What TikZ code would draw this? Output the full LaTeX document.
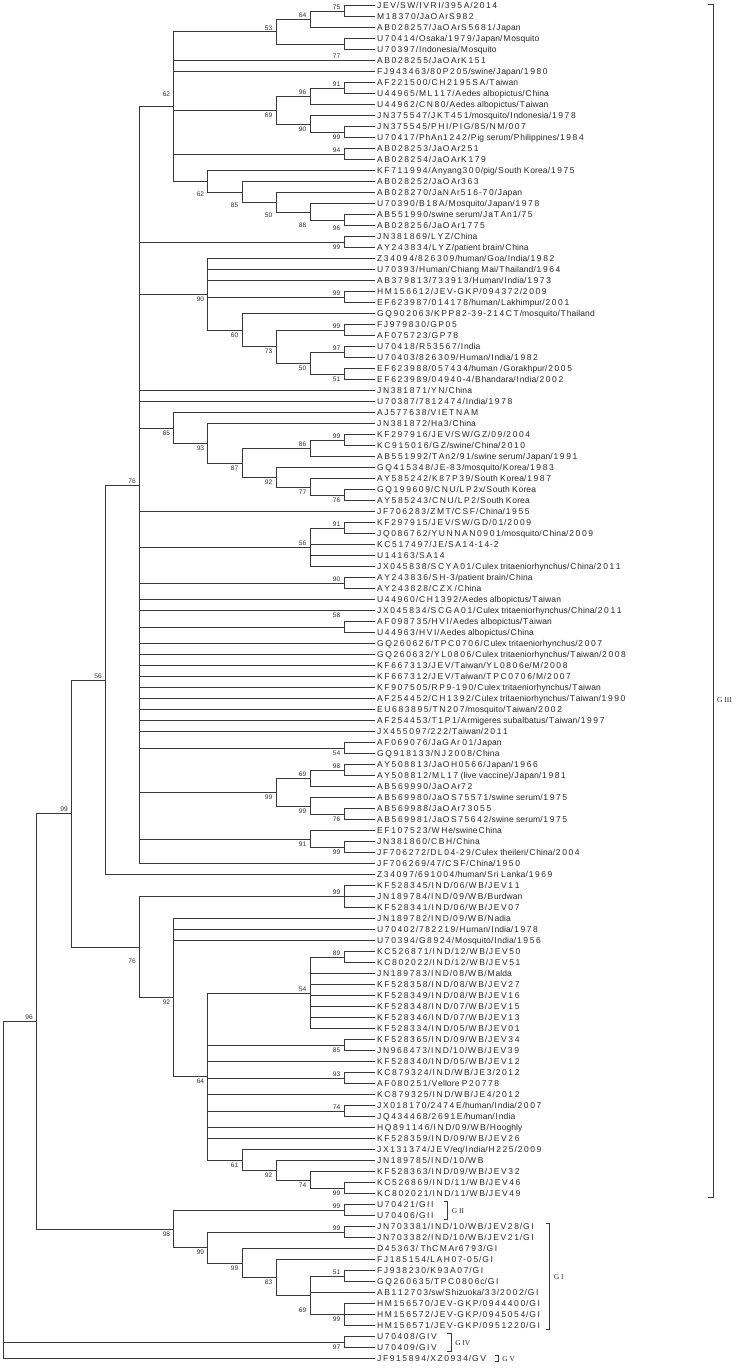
\documentclass[tikz,border=0pt]{standalone}
\usepackage{fontspec}
\setmainfont{Liberation Sans}
\newfontfamily\leaffont{Liberation Sans}
\newfontfamily\cladefont{Liberation Serif}
\usetikzlibrary{calc}
% wider capitals and digits (class 7) in leaf labels, spacing shared on both sides
\newcount\cc
\cc=`A \loop \XeTeXcharclass\cc=7 \ifnum\cc<`Z \advance\cc by 1 \repeat
\cc=`0 \loop \XeTeXcharclass\cc=7 \ifnum\cc<`9 \advance\cc by 1 \repeat
\XeTeXinterchartoks 7 7 = {\kern1.6pt}
\XeTeXinterchartoks 7 0 = {\kern0.85pt}
\XeTeXinterchartoks 0 7 = {\kern0.85pt}
\XeTeXinterchartoks 0 0 = {\kern0.1pt}
\newcommand\wideon{\XeTeXinterchartokenstate=1 }
\tikzset{
  br/.style={draw=black!78, line width=0.8pt},
  clbr/.style={draw=black!78, line width=0.8pt},
  leaf/.style={anchor=west, inner xsep=2pt, inner ysep=0pt, text height=6.1pt, text depth=0pt,
    font=\wideon\leaffont\fontsize{8.5}{10}\selectfont, text=black!85},
  bs/.style={anchor=east, inner sep=0pt, font=\fontsize{6.6}{7}\selectfont, text=black!80},
  clade/.style={anchor=west, inner sep=0pt, font=\cladefont\fontsize{7.4}{8}\selectfont, text=black!85}
}
\newcommand\lf[2]{\node[leaf] (l#1) at (375,{5.7+11*(#1-1)}) {#2};}
\newcommand\nd[3]{\coordinate (#1) at (#2,#3);}
\newcommand\ed[2]{\draw[br] (#1) |- (#2);}
\newcommand\el[2]{\draw[br] (#1) |- (l#2.west);}
\newcommand\bv[3]{\node[bs] (b#1) at ([xshift=-3.5pt,yshift=#3pt]#1) {#2};}
% clade bracket: #1 top leaf, #2 bottom leaf, #3 leaf giving x, #4 gap, #5 text, #6 name
\newcommand\clb[6]{%
  \path let \p1=(#3.east), \p2=(#1.east), \p3=(#2.east) in
    coordinate (#6t) at (\x1+#4pt,\y2+3pt) coordinate (#6b) at (\x1+#4pt,\y3-4pt);
  \draw[clbr] ([xshift=-4pt]#6t) -- (#6t) -- (#6b) -- ([xshift=-4pt]#6b);
  \node[clade] (#6) at ($(#6t)!0.5!(#6b)+(4,0)$) {#5};}
\begin{document}
\begin{tikzpicture}[x=1pt,y=-1pt]
\useasboundingbox (0,0) rectangle (742,1368);
% ---------- leaves ----------
\lf{1}{JEV/SW/IVRI/395A/2014}
\lf{2}{M18370/JaOArS982}
\lf{3}{AB028257/JaOArS5681/Japan}
\lf{4}{U70414/Osaka/1979/Japan/Mosquito}
\lf{5}{U70397/Indonesia/Mosquito}
\lf{6}{AB028255/JaOArK151}
\lf{7}{FJ943463/80P205/swine/Japan/1980}
\lf{8}{AF221500/CH2195SA/Taiwan}
\lf{9}{U44965/ML117/Aedes albopictus/China}
\lf{10}{U44962/CN80/Aedes albopictus/Taiwan}
\lf{11}{JN375547/JKT451/mosquito/Indonesia/1978}
\lf{12}{JN375545/PHI/PIG/85/NM/007}
\lf{13}{U70417/PhAn1242/Pig serum/Philippines/1984}
\lf{14}{AB028253/JaOAr251}
\lf{15}{AB028254/JaOArK179}
\lf{16}{KF711994/Anyang300/pig/South Korea/1975}
\lf{17}{AB028252/JaOAr363}
\lf{18}{AB028270/JaNAr516-70/Japan}
\lf{19}{U70390/B18A/Mosquito/Japan/1978}
\lf{20}{AB551990/swine serum/JaTAn1/75}
\lf{21}{AB028256/JaOAr1775}
\lf{22}{JN381869/LYZ/China}
\lf{23}{AY243834/LYZ/patient brain/China}
\lf{24}{Z34094/826309/human/Goa/India/1982}
\lf{25}{U70393/Human/Chiang Mai/Thailand/1964}
\lf{26}{AB379813/733913/Human/India/1973}
\lf{27}{HM156612/JEV-GKP/094372/2009}
\lf{28}{EF623987/014178/human/Lakhimpur/2001}
\lf{29}{GQ902063/KPP82-39-214CT/mosquito/Thailand}
\lf{30}{FJ979830/GP05}
\lf{31}{AF075723/GP78}
\lf{32}{U70418/R53567/India}
\lf{33}{U70403/826309/Human/India/1982}
\lf{34}{EF623988/057434/human /Gorakhpur/2005}
\lf{35}{EF623989/04940-4/Bhandara/India/2002}
\lf{36}{JN381871/YN/China}
\lf{37}{U70387/7812474/India/1978}
\lf{38}{AJ577638/VIETNAM}
\lf{39}{JN381872/Ha3/China}
\lf{40}{KF297916/JEV/SW/GZ/09/2004}
\lf{41}{KC915016/GZ/swine/China/2010}
\lf{42}{AB551992/TAn2/91/swine serum/Japan/1991}
\lf{43}{GQ415348/JE-83/mosquito/Korea/1983}
\lf{44}{AY585242/K87P39/South Korea/1987}
\lf{45}{GQ199609/CNU/LP2x/South Korea}
\lf{46}{AY585243/CNU/LP2/South Korea}
\lf{47}{JF706283/ZMT/CSF/China/1955}
\lf{48}{KF297915/JEV/SW/GD/01/2009}
\lf{49}{JQ086762/YUNNAN0901/mosquito/China/2009}
\lf{50}{KC517497/JE/SA14-14-2}
\lf{51}{U14163/SA14}
\lf{52}{JX045838/SCYA01/Culex tritaeniorhynchus/China/2011}
\lf{53}{AY243836/SH-3/patient brain/China}
\lf{54}{AY243828/CZX /China}
\lf{55}{U44960/CH1392/Aedes albopictus/Taiwan}
\lf{56}{JX045834/SCGA01/Culex tritaeniorhynchus/China/2011}
\lf{57}{AF098735/HVI/Aedes albopictus/Taiwan}
\lf{58}{U44963/HVI/Aedes albopictus/China}
\lf{59}{GQ260626/TPC0706/Culex tritaeniorhynchus/2007}
\lf{60}{GQ260632/YL0806/Culex tritaeniorhynchus/Taiwan/2008}
\lf{61}{KF667313/JEV/Taiwan/YL0806e/M/2008}
\lf{62}{KF667312/JEV/Taiwan/TPC0706/M/2007}
\lf{63}{KF907505/RP9-190/Culex tritaeniorhynchus/Taiwan}
\lf{64}{AF254452/CH1392/Culex tritaeniorhynchus/Taiwan/1990}
\lf{65}{EU683895/TN207/mosquito/Taiwan/2002}
\lf{66}{AF254453/T1P1/Armigeres subalbatus/Taiwan/1997}
\lf{67}{JX455097/222/Taiwan/2011}
\lf{68}{AF069076/JaGAr 01/Japan}
\lf{69}{GQ918133/NJ 2008/China}
\lf{70}{AY508813/JaOH0566/Japan/1966}
\lf{71}{AY508812/ML17 (live vaccine)/Japan/1981}
\lf{72}{AB569990/JaOAr72}
\lf{73}{AB569980/JaOS75571/swine serum/1975}
\lf{74}{AB569988/JaOAr73055}
\lf{75}{AB569981/JaOS75642/swine serum/1975}
\lf{76}{EF107523/WHe/swineChina}
\lf{77}{JN381860/CBH/China}
\lf{78}{JF706272/DL04-29/Culex theileri/China/2004}
\lf{79}{JF706269/47/CSF/China/1950}
\lf{80}{Z34097/691004/human/Sri Lanka/1969}
\lf{81}{KF528345/IND/06/WB/JEV11}
\lf{82}{JN189784/IND/09/WB/Burdwan}
\lf{83}{KF528341/IND/06/WB/JEV07}
\lf{84}{JN189782/IND/09/WB/Nadia}
\lf{85}{U70402/782219/Human/India/1978}
\lf{86}{U70394/G8924/Mosquito/India/1956}
\lf{87}{KC526871/IND/12/WB/JEV50}
\lf{88}{KC802022/IND/12/WB/JEV51}
\lf{89}{JN189783/IND/08/WB/Malda}
\lf{90}{KF528358/IND/08/WB/JEV27}
\lf{91}{KF528349/IND/08/WB/JEV16}
\lf{92}{KF528348/IND/07/WB/JEV15}
\lf{93}{KF528346/IND/07/WB/JEV13}
\lf{94}{KF528334/IND/05/WB/JEV01}
\lf{95}{KF528365/IND/09/WB/JEV34}
\lf{96}{JN968473/IND/10/WB/JEV39}
\lf{97}{KF528340/IND/05/WB/JEV12}
\lf{98}{KC879324/IND/WB/JE3/2012}
\lf{99}{AF080251/Vellore P20778}
\lf{100}{KC879325/IND/WB/JE4/2012}
\lf{101}{JX018170/2474E/human/India/2007}
\lf{102}{JQ434468/2691E/human/India}
\lf{103}{HQ891146/IND/09/WB/Hooghly}
\lf{104}{KF528359/IND/09/WB/JEV26}
\lf{105}{JX131374/JEV/eq/India/H225/2009}
\lf{106}{JN189785/IND/10/WB}
\lf{107}{KF528363/IND/09/WB/JEV32}
\lf{108}{KC526869/IND/11/WB/JEV46}
\lf{109}{KC802021/IND/11/WB/JEV49}
\lf{110}{U70421/GII}
\lf{111}{U70406/GII}
\lf{112}{JN703381/IND/10/WB/JEV28/GI}
\lf{113}{JN703382/IND/10/WB/JEV21/GI}
\lf{114}{D45363/ ThCMAr6793/GI}
\lf{115}{FJ185154/LAH07-05/GI}
\lf{116}{FJ938230/K93A07/GI}
\lf{117}{GQ260635/TPC0806c/GI}
\lf{118}{AB112703/sw/Shizuoka/33/2002/GI}
\lf{119}{HM156570/JEV-GKP/0944400/GI}
\lf{120}{HM156572/JEV-GKP/0945054/GI}
\lf{121}{HM156571/JEV-GKP/0951220/GI}
\lf{122}{U70408/GIV}
\lf{123}{U70409/GIV}
\lf{124}{JF915894/XZ0934/GV}
% ---------- internal nodes ----------
\nd{n75}{344}{11.2}      \el{n75}{1}\el{n75}{2}\bv{n75}{75}{4}
\nd{n64}{310}{19.45}     \ed{n64}{n75}\el{n64}{3}\bv{n64}{64}{4}
\nd{n77}{344}{44.2}      \el{n77}{4}\el{n77}{5}\bv{n77}{77}{-12}
\nd{n53}{276}{31.8}      \ed{n53}{n64}\ed{n53}{n77}\bv{n53}{53}{4}
\nd{n91}{344}{88.2}      \el{n91}{8}\el{n91}{9}\bv{n91}{91}{4}
\nd{n96a}{310}{96.45}    \ed{n96a}{n91}\el{n96a}{10}\bv{n96a}{96}{4}
\nd{n99j}{344}{132.2}    \el{n99j}{12}\el{n99j}{13}\bv{n99j}{99}{-5}
\nd{n90c}{310}{123.95}   \el{n90c}{11}\ed{n90c}{n99j}\bv{n90c}{90}{-5}
\nd{n69}{276}{110.2}     \ed{n69}{n96a}\ed{n69}{n90c}\bv{n69}{69}{-5}
\nd{n94}{344}{154.2}     \el{n94}{14}\el{n94}{15}\bv{n94}{94}{4}
\nd{n96b}{344}{220.2}    \el{n96b}{20}\el{n96b}{21}\bv{n96b}{96}{-8}
\nd{n88}{310}{211.95}    \el{n88}{19}\ed{n88}{n96b}\bv{n88}{88}{-13}
\nd{n50}{276}{202.3}     \el{n50}{18}\ed{n50}{n88}\bv{n50}{50}{-13}
\nd{n85}{241.9}{192}     \el{n85}{17}\ed{n85}{n50}\bv{n85}{85}{-13}
\nd{n62b}{207.8}{181.35} \el{n62b}{16}\ed{n62b}{n85}\bv{n62b}{62}{-13}
\nd{n62a}{173.8}{106.6}  \ed{n62a}{n53}\el{n62a}{6}\el{n62a}{7}\ed{n62a}{n69}\ed{n62a}{n94}\ed{n62a}{n62b}\bv{n62a}{62}{12}
\nd{n99y}{344}{242.2}    \el{n99y}{22}\el{n99y}{23}\bv{n99y}{99}{-5}
\nd{n99k}{344}{297.2}    \el{n99k}{27}\el{n99k}{28}\bv{n99k}{99}{4}
\nd{n99l}{344}{330.2}    \el{n99l}{30}\el{n99l}{31}\bv{n99l}{99}{4}
\nd{n97b}{344}{352.2}    \el{n97b}{32}\el{n97b}{33}\bv{n97b}{97}{4}
\nd{n51b}{344}{374.2}    \el{n51b}{34}\el{n51b}{35}\bv{n51b}{51}{-5}
\nd{n50b}{310}{363.2}    \ed{n50b}{n97b}\ed{n50b}{n51b}\bv{n50b}{50}{-5}
\nd{n73}{276}{346.7}     \ed{n73}{n99l}\ed{n73}{n50b}\bv{n73}{73}{-5}
\nd{n60}{241.9}{330.2}   \el{n60}{29}\ed{n60}{n73}\bv{n60}{60}{-5}
\nd{n90}{207.8}{294.45}  \el{n90}{24}\el{n90}{25}\el{n90}{26}\ed{n90}{n99k}\ed{n90}{n60}\bv{n90}{90}{-5}
\nd{n99m}{344}{440.2}    \el{n99m}{40}\el{n99m}{41}\bv{n99m}{99}{4}
\nd{n86}{310}{448.45}    \ed{n86}{n99m}\el{n86}{42}\bv{n86}{86}{4}
\nd{n76c}{344}{495.2}    \el{n76c}{45}\el{n76c}{46}\bv{n76c}{76}{-5}
\nd{n77b}{310}{486.95}   \el{n77b}{44}\ed{n77b}{n76c}\bv{n77b}{77}{-5}
\nd{n92b}{276}{477.3}    \el{n92b}{43}\ed{n92b}{n77b}\bv{n92b}{92}{-5}
\nd{n87}{241.9}{462.9}   \ed{n87}{n86}\ed{n87}{n92b}\bv{n87}{87}{-5}
\nd{n93b}{207.8}{443.3}  \el{n93b}{39}\ed{n93b}{n87}\bv{n93b}{93}{-5}
\nd{n65}{173.8}{428}     \el{n65}{38}\ed{n65}{n93b}\bv{n65}{65}{-5}
\nd{n91b}{344}{528.2}    \el{n91b}{48}\el{n91b}{49}\bv{n91b}{91}{4}
\nd{n56b}{310}{547.45}   \ed{n56b}{n91b}\el{n56b}{50}\el{n56b}{51}\el{n56b}{52}\bv{n56b}{56}{4}
\nd{n90b}{344}{583.2}    \el{n90b}{53}\el{n90b}{54}\bv{n90b}{90}{4}
\nd{n58}{344}{627.2}     \el{n58}{57}\el{n58}{58}\bv{n58}{58}{12}
\nd{n54b}{344}{748.2}    \el{n54b}{68}\el{n54b}{69}\bv{n54b}{54}{-5}
\nd{n98b}{344}{770.2}    \el{n98b}{70}\el{n98b}{71}\bv{n98b}{98}{4}
\nd{n69c}{310}{778.45}   \ed{n69c}{n98b}\el{n69c}{72}\bv{n69c}{69}{4}
\nd{n76d}{344}{814.2}    \el{n76d}{74}\el{n76d}{75}\bv{n76d}{76}{-5}
\nd{n99n}{310}{805.95}   \el{n99n}{73}\ed{n99n}{n76d}\bv{n99n}{99}{-5}
\nd{n99b}{276}{792.2}    \ed{n99b}{n69c}\ed{n99b}{n99n}\bv{n99b}{99}{-5}
\nd{n99o}{344}{847.2}    \el{n99o}{77}\el{n99o}{78}\bv{n99o}{99}{-5}
\nd{n91c}{310}{838.95}   \el{n91c}{76}\ed{n91c}{n99o}\bv{n91c}{91}{-5}
\nd{n76a}{139.4}{485.15}
\ed{n76a}{n62a}\ed{n76a}{n99y}\ed{n76a}{n90}\el{n76a}{36}\el{n76a}{37}\ed{n76a}{n65}
\el{n76a}{47}\ed{n76a}{n56b}\ed{n76a}{n90b}\el{n76a}{55}\el{n76a}{56}\ed{n76a}{n58}
\foreach \k in {59,...,67} {\el{n76a}{\k}}
\ed{n76a}{n54b}\ed{n76a}{n99b}\ed{n76a}{n91c}\el{n76a}{79}\bv{n76a}{76}{4}
\nd{n56a}{105.5}{679.9}  \ed{n56a}{n76a}\el{n56a}{80}\bv{n56a}{56}{4}
\nd{n99c}{344}{896.7}    \el{n99c}{81}\el{n99c}{82}\el{n99c}{83}\bv{n99c}{99}{4}
\nd{n89}{344}{957.2}     \el{n89}{87}\el{n89}{88}\bv{n89}{89}{4}
\nd{n54}{310}{992.95}    \ed{n54}{n89}\foreach \k in {89,...,94} {\el{n54}{\k}}\bv{n54}{54}{4}
\nd{n85b}{344}{1045.2}   \el{n85b}{95}\el{n85b}{96}\bv{n85b}{85}{-5}
\nd{n93}{344}{1078.2}    \el{n93}{98}\el{n93}{99}\bv{n93}{93}{4}
\nd{n74}{344}{1111.2}    \el{n74}{101}\el{n74}{102}\bv{n74}{74}{4}
\nd{n99d}{344}{1188.2}   \el{n99d}{108}\el{n99d}{109}\bv{n99d}{99}{-5}
\nd{n74b}{310}{1179.95}  \el{n74b}{107}\ed{n74b}{n99d}\bv{n74b}{74}{-5}
\nd{n92c}{276}{1170.3}   \el{n92c}{106}\ed{n92c}{n74b}\bv{n92c}{92}{-5}
\nd{n61}{241.9}{1160}    \el{n61}{105}\ed{n61}{n92c}\bv{n61}{61}{-5}
\nd{n64b}{207.8}{1076.5}
\ed{n64b}{n54}\ed{n64b}{n85b}\el{n64b}{97}\ed{n64b}{n93}\el{n64b}{100}\ed{n64b}{n74}
\el{n64b}{103}\el{n64b}{104}\ed{n64b}{n61}\bv{n64b}{64}{-5}
\nd{n92}{173.8}{997.6}   \el{n92}{84}\el{n92}{85}\el{n92}{86}\ed{n92}{n64b}\bv{n92}{92}{-5}
\nd{n76b}{139.4}{947.15} \ed{n76b}{n99c}\ed{n76b}{n92}\bv{n76b}{76}{-14}
\nd{n99x}{71.4}{813.5}   \ed{n99x}{n56a}\ed{n99x}{n76b}\bv{n99x}{99}{4}
\nd{n99e}{344}{1210.2}   \el{n99e}{110}\el{n99e}{111}\bv{n99e}{99}{4}
\nd{n99g}{344}{1232.2}   \el{n99g}{112}\el{n99g}{113}\bv{n99g}{99}{4}
\nd{n51}{344}{1276.2}    \el{n51}{116}\el{n51}{117}\bv{n51}{51}{4}
\nd{n99i}{344}{1314.7}   \el{n99i}{119}\el{n99i}{120}\el{n99i}{121}\bv{n99i}{99}{-5}
\nd{n69b}{310}{1295.45}  \ed{n69b}{n51}\el{n69b}{118}\ed{n69b}{n99i}\bv{n69b}{69}{-15}
\nd{n83}{276}{1277.6}    \el{n83}{115}\ed{n83}{n69b}\bv{n83}{83}{-5}
\nd{n99h}{241.9}{1263.15}\el{n99h}{114}\ed{n99h}{n83}\bv{n99h}{99}{-5}
\nd{n99f}{207.8}{1247.7} \ed{n99f}{n99g}\ed{n99f}{n99h}\bv{n99f}{99}{-5}
\nd{n98}{173.8}{1228.95} \ed{n98}{n99e}\ed{n98}{n99f}\bv{n98}{98}{-5}
\nd{n96}{36.5}{1021.2}   \ed{n96}{n99x}\ed{n96}{n98}\bv{n96}{96}{4}
\nd{n97}{344}{1342.2}    \el{n97}{122}\el{n97}{123}\bv{n97}{97}{-5}
\nd{root}{3.3}{1190}     \ed{root}{n96}\ed{root}{n97}\el{root}{124}
% ---------- clade brackets ----------
\draw[clbr] (708,4) -- (713,4) -- (713,1197) -- (708,1197);
\node[clade] (g3) at (717,700) {G III};
\clb{l110}{l111}{l110}{12}{G II}{g2}
\clb{l112}{l121}{l118}{9}{G I}{g1}
\clb{l122}{l123}{l122}{12}{G IV}{g4}
\path let \p1=(l124.east) in coordinate (g5t) at (\x1+10pt,\y1+3pt) coordinate (g5b) at (\x1+10pt,\y1-3pt);
\draw[clbr] ([xshift=-3pt]g5t) -- (g5t) -- (g5b) -- ([xshift=-3pt]g5b);
\node[clade] (g5) at ($(g5t)!0.5!(g5b)+(4,0)$) {G V};
\end{tikzpicture}
\end{document}
